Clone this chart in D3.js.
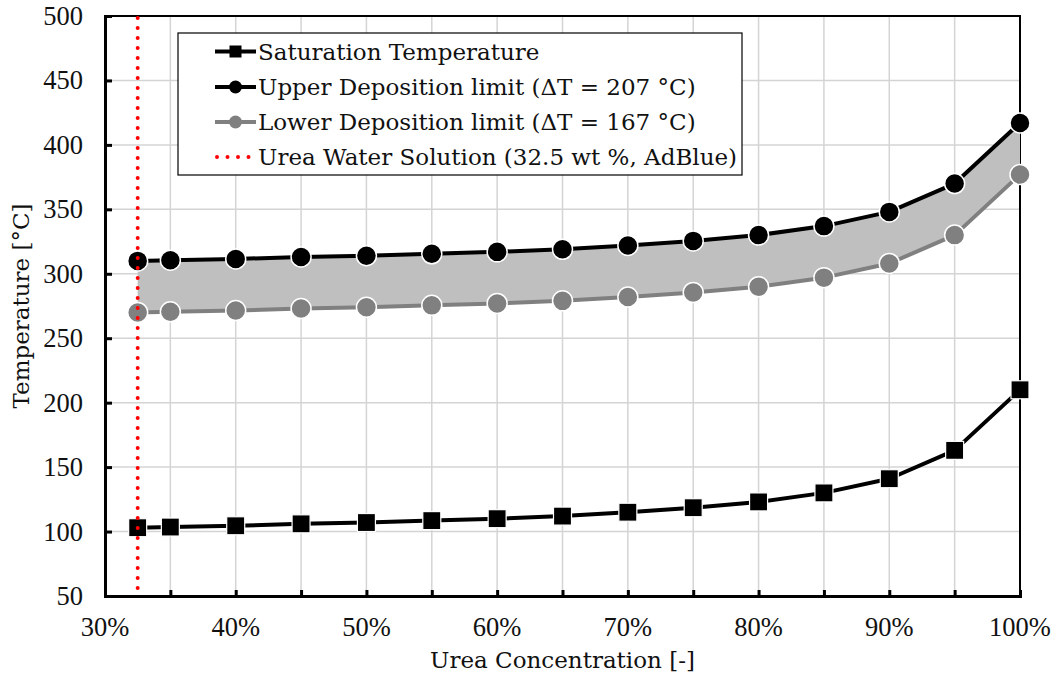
<!DOCTYPE html>
<html>
<head>
<meta charset="utf-8">
<script src="https://cdn.jsdelivr.net/npm/d3@7"></script>
<style>
  body { margin: 0; background: #fff; }
  svg { display: block; font-family: "DejaVu Serif", serif; }
</style>
</head>
<body>
<svg id="chart" width="1054" height="675"></svg>
<script>
// ---- data ----
const concentration = [0.325, 0.35, 0.40, 0.45, 0.50, 0.55, 0.60, 0.65, 0.70, 0.75, 0.80, 0.85, 0.90, 0.95, 1.00];
const saturationTemp = [103, 103.5, 104.5, 106, 107, 108.5, 110, 112, 115, 118.5, 123, 130, 141, 163, 210];
const upperLimit = [310, 310.5, 311.5, 313, 314, 315.5, 317, 319, 322, 325.5, 330, 337, 348, 370, 417];
const lowerLimit = [270, 270.5, 271.5, 273, 274, 275.5, 277, 279, 282, 285.5, 290, 297, 308, 330, 377];
const adBlueConcentration = 0.325;
const xTicks = [0.30, 0.35, 0.40, 0.45, 0.50, 0.55, 0.60, 0.65, 0.70, 0.75, 0.80, 0.85, 0.90, 0.95, 1.00];
const xTickLabels = [0.30, 0.40, 0.50, 0.60, 0.70, 0.80, 0.90, 1.00];
const yTicks = [50, 100, 150, 200, 250, 300, 350, 400, 450, 500];
const legendLabels = [
  "Saturation Temperature",
  "Upper Deposition limit (\u0394T = 207 \u00B0C)",
  "Lower Deposition limit (\u0394T = 167 \u00B0C)",
  "Urea Water Solution (32.5 wt %, AdBlue)"
];
const xTitle = "Urea Concentration [-]";
const yTitle = "Temperature [\u00B0C]";

// ---- layout ----
const L = 105, R = 1020, T = 16, B = 596;
const svg = d3.select("#chart");
const x = d3.scaleLinear().domain([0.30, 1.00]).range([L, R]);
const y = d3.scaleLinear().domain([50, 500]).range([B, T]);

const gridColor = "#d4d4d4";
const grayColor = "#808080";
const fillColor = "#bfbfbf";
const tickFont = "'Liberation Serif', serif";

// grid
const grid = svg.append("g");
grid.selectAll(".vg").data(xTicks.slice(1, -1)).join("line")
  .attr("x1", d => x(d)).attr("x2", d => x(d)).attr("y1", T).attr("y2", B)
  .attr("stroke", gridColor).attr("stroke-width", 1.5);
grid.selectAll(".hg").data(yTicks.slice(1, -1)).join("line")
  .attr("x1", L).attr("x2", R).attr("y1", d => y(d)).attr("y2", d => y(d))
  .attr("stroke", gridColor).attr("stroke-width", 1.5);

// frame
svg.append("rect").attr("x", L).attr("y", T).attr("width", R - L).attr("height", B - T)
  .attr("fill", "none").attr("stroke", "#000").attr("stroke-width", 2);

const pts = concentration.map((c, i) => ({ c, s: saturationTemp[i], u: upperLimit[i], l: lowerLimit[i] }));

// band fill
svg.append("path").datum(pts)
  .attr("d", d3.area().x(d => x(d.c)).y0(d => y(d.l)).y1(d => y(d.u)))
  .attr("fill", fillColor);

// lines
function drawLine(key, color) {
  svg.append("path").datum(pts)
    .attr("d", d3.line().x(d => x(d.c)).y(d => y(d[key])))
    .attr("fill", "none").attr("stroke", color).attr("stroke-width", 4)
    .attr("stroke-linejoin", "round");
}
drawLine("s", "#000");
drawLine("u", "#000");
drawLine("l", grayColor);

// markers
svg.append("g").selectAll("rect").data(pts).join("rect")
  .attr("x", d => x(d.c) - 9).attr("y", d => y(d.s) - 9)
  .attr("width", 18).attr("height", 18)
  .attr("fill", "#000").attr("stroke", "#fff").attr("stroke-width", 1.2);
svg.append("g").selectAll("circle").data(pts).join("circle")
  .attr("cx", d => x(d.c)).attr("cy", d => y(d.u)).attr("r", 10)
  .attr("fill", "#000").attr("stroke", "#fff").attr("stroke-width", 1.5);
svg.append("g").selectAll("circle").data(pts).join("circle")
  .attr("cx", d => x(d.c)).attr("cy", d => y(d.l)).attr("r", 10)
  .attr("fill", grayColor).attr("stroke", "#fff").attr("stroke-width", 1.5);

// red dotted AdBlue line
svg.append("line")
  .attr("x1", x(adBlueConcentration)).attr("x2", x(adBlueConcentration))
  .attr("y1", T + 2).attr("y2", B)
  .attr("stroke", "#ff0000").attr("stroke-width", 4)
  .attr("stroke-linecap", "round").attr("stroke-dasharray", "0 10");

// axes
const xAxis = svg.append("g").attr("transform", `translate(0,${B})`)
  .call(d3.axisBottom(x).tickValues(xTicks).tickSize(-6).tickFormat(""));
xAxis.select(".domain").attr("stroke-width", 3);
xAxis.selectAll(".tick line").attr("stroke-width", 3);
const yAxis = svg.append("g").attr("transform", `translate(${L},0)`)
  .call(d3.axisLeft(y).tickValues(yTicks).tickSize(-7).tickFormat(""));
yAxis.select(".domain").attr("stroke-width", 3);
yAxis.selectAll(".tick line").attr("stroke-width", 3);

// tick labels
svg.append("g").selectAll("text").data(xTickLabels).join("text")
  .attr("x", d => x(d)).attr("y", 636)
  .attr("text-anchor", "middle").attr("font-size", 26.5).attr("font-family", tickFont).attr("fill", "#111")
  .text(d => d3.format(".0%")(d));
svg.append("g").selectAll("text").data(yTicks).join("text")
  .attr("x", 83).attr("y", d => y(d)).attr("dy", "0.34em")
  .attr("text-anchor", "end").attr("font-size", 26.5).attr("font-family", tickFont).attr("fill", "#111")
  .text(d => d);

// axis titles
svg.append("text").attr("x", (L + R) / 2).attr("y", 668)
  .attr("text-anchor", "middle").attr("font-size", 23).attr("fill", "#111").text(xTitle);
svg.append("text").attr("transform", `translate(29,${(T + B) / 2}) rotate(-90)`)
  .attr("text-anchor", "middle").attr("font-size", 23).attr("fill", "#111").text(yTitle);

// legend
const lg = svg.append("g");
lg.append("rect").attr("x", 178).attr("y", 33).attr("width", 564).attr("height", 142)
  .attr("fill", "#fff").attr("stroke", "#000").attr("stroke-width", 1.2);
const rowY = [51.5, 87, 122, 157];
const sx1 = 215, sx2 = 256, sxm = 235.5;
legendLabels.forEach((lab, i) => {
  const yy = rowY[i];
  if (i < 3) {
    const col = i === 2 ? grayColor : "#000";
    lg.append("line").attr("x1", sx1).attr("x2", sx2).attr("y1", yy).attr("y2", yy)
      .attr("stroke", col).attr("stroke-width", 4);
    if (i === 0) {
      lg.append("rect").attr("x", sxm - 6).attr("y", yy - 6).attr("width", 12).attr("height", 12).attr("fill", "#000");
    } else {
      lg.append("circle").attr("cx", sxm).attr("cy", yy).attr("r", 6.5).attr("fill", col);
    }
  } else {
    lg.append("line").attr("x1", 217).attr("x2", 250).attr("y1", yy).attr("y2", yy)
      .attr("stroke", "#ff0000").attr("stroke-width", 4)
      .attr("stroke-linecap", "round").attr("stroke-dasharray", "0 10.5");
  }
  lg.append("text").attr("x", 258).attr("y", yy).attr("dy", "0.36em")
    .attr("font-size", 23).attr("fill", "#111").text(lab);
});
</script>
</body>
</html>
